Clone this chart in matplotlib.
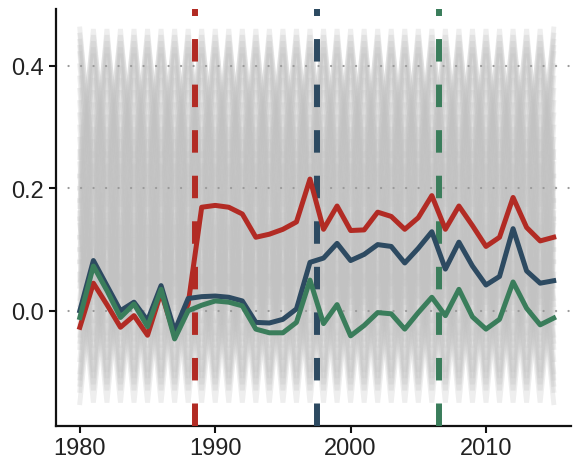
import matplotlib
matplotlib.use("Agg")
from matplotlib import pyplot as plt

plt.rcParams['font.family'] = ['Liberation Sans', 'DejaVu Sans']
plt.rcParams['lines.scale_dashes'] = False

# Years on the x axis
years = list(range(1980, 2016))

# Treated series
red_vals = [-0.027, 0.045, 0.010, -0.027, -0.008, -0.040, 0.030, -0.040, 0.011, 0.169,
            0.172, 0.169, 0.158, 0.120, 0.125, 0.133, 0.145, 0.215, 0.133, 0.171,
            0.131, 0.132, 0.161, 0.154, 0.133, 0.152, 0.188, 0.133, 0.171, 0.139,
            0.105, 0.120, 0.185, 0.136, 0.114, 0.120]
blue_vals = [0.000, 0.082, 0.041, 0.000, 0.014, -0.016, 0.041, -0.033, 0.020, 0.023,
             0.024, 0.022, 0.016, -0.019, -0.020, -0.014, 0.003, 0.079, 0.086, 0.110,
             0.082, 0.092, 0.108, 0.105, 0.078, 0.102, 0.129, 0.068, 0.112, 0.073,
             0.042, 0.056, 0.134, 0.065, 0.045, 0.049]
green_vals = [-0.011, 0.073, 0.033, -0.011, 0.011, -0.026, 0.035, -0.046, 0.000, 0.009,
              0.016, 0.014, 0.008, -0.030, -0.036, -0.036, -0.019, 0.050, -0.021, 0.010,
              -0.041, -0.024, -0.003, -0.005, -0.030, -0.003, 0.022, -0.008, 0.035, -0.010,
              -0.030, -0.014, 0.047, 0.004, -0.023, -0.012]

# Event years (dashed markers)
event_years = [1988.5, 1997.5, 2006.5]

# Placebo lines: high / low turning values of each grey line
placebo_hi = [0.46, 0.45, 0.44, 0.43, 0.42, 0.40, 0.38, 0.36,
              0.34, 0.32, 0.30, 0.28, 0.26, 0.24, 0.22, 0.20,
              0.18, 0.15, 0.12, 0.10, 0.08, 0.06, 0.14, 0.16]
placebo_lo = [0.22, 0.25, 0.18, 0.20, 0.15, 0.17, 0.12, 0.10,
              0.05, 0.08, 0.02, 0.00, 0.04, -0.02, -0.04, 0.01,
              -0.06, -0.08, -0.10, -0.12, -0.13, -0.15, -0.05, -0.11]

red = '#b22b24'
blue = '#2d4a61'
green = '#3a7d5b'

fig = plt.figure(figsize=(5.73, 4.6), dpi=100)
ax = fig.add_axes([0.098, 0.072, 0.899, 0.906])

# grey placebo lines
for hi, lo in zip(placebo_hi, placebo_lo):
    for phase in (0, 1):
        vals = [hi if (i + phase) % 2 == 0 else lo for i in range(len(years))]
        ax.plot(years, vals, color='#c2c2c2', lw=3.5, alpha=0.28, zorder=1,
                solid_joinstyle='bevel')

# dotted grid
for yv in [0.0, 0.2, 0.4]:
    ax.axhline(yv, color='#9a9a9a', lw=1.6, linestyle=(0, (0.1, 8.9)),
               dash_capstyle='round', zorder=2)

# event markers
for ev, col in zip(event_years, [red, blue, green]):
    ax.axvline(ev, color=col, lw=4.3, linestyle=(0, (16.2, 16.6)),
               dash_capstyle='butt', zorder=3)

ax.plot(years, red_vals, color=red, lw=3.6, zorder=4, solid_joinstyle='round')
ax.plot(years, blue_vals, color=blue, lw=3.6, zorder=5, solid_joinstyle='round')
ax.plot(years, green_vals, color=green, lw=3.6, zorder=6, solid_joinstyle='round')

ax.set_xlim(1978.25, 2016.3)
ax.set_ylim(-0.188, 0.4925)
ax.set_xticks([1980, 1990, 2000, 2010])
ax.set_yticks([0.0, 0.2, 0.4])
ax.set_yticklabels(['0.0', '0.2', '0.4'])

for s in ['top', 'right']:
    ax.spines[s].set_visible(False)
for s in ['left', 'bottom']:
    ax.spines[s].set_linewidth(1.6)
    ax.spines[s].set_color('#111111')

ax.tick_params(direction='out', length=5, width=1.5, colors='#111111',
               labelsize=17, labelcolor='#222222')
ax.tick_params(axis='x', pad=3)
ax.tick_params(axis='y', pad=4)

fig.savefig('out.png', dpi=100)
